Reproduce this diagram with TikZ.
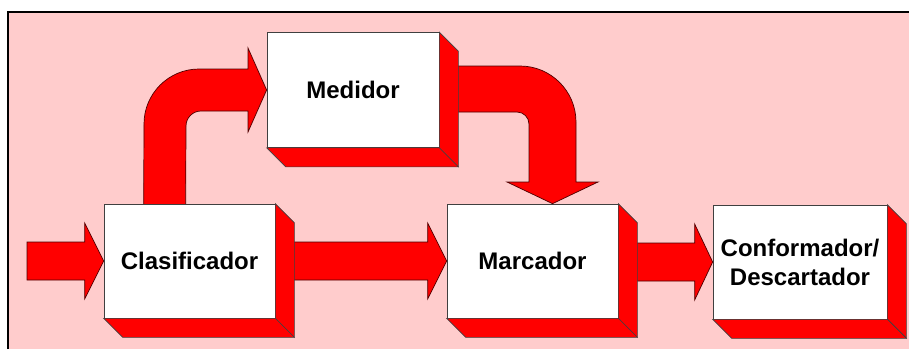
\documentclass[tikz,border=0pt]{standalone}
\usepackage{fontspec}
\setmainfont{Liberation Sans}
\usetikzlibrary{calc}
\pgfdeclarelayer{back}
\pgfdeclarelayer{mid}
\pgfsetlayers{back,mid,main}
\definecolor{panelpink}{HTML}{FFCCCC}
\definecolor{blockred}{HTML}{FF0000}
\tikzset{
  stage/.style={rectangle, draw=black!75, line width=0.7pt, fill=white,
    inner sep=0pt, minimum width=171pt, minimum height=114pt,
    font=\fontsize{24}{29}\selectfont\bfseries, align=center},
  face/.style={fill=blockred, draw=black!75, line width=0.7pt, line join=miter},
  flow/.style={fill=blockred, draw=black!70!red, line width=0.7pt, line join=miter},
}
% right and bottom faces that give a stage its depth
\newcommand\extrudestage[1]{%
  \draw[face] (#1.north east) -- ++(19,19) -- ($(#1.south east)+(19,19)$)
    -- (#1.south east) -- cycle;
  \draw[face] (#1.south west) -- (#1.south east) -- ++(19,19)
    -- ($(#1.south west)+(19,19)$) -- cycle;}
% straight block arrow: #1 start, #2 tip, #3 head length
\newcommand\straightflow[3]{%
  \draw[flow] ($(#1 |- #2)+(0,-19)$) -- ($(#2)+(-#3,-19)$) -- ($(#2)+(-#3,-38)$)
    -- (#2) -- ($(#2)+(-#3,38)$) -- ($(#2)+(-#3,19)$) -- ($(#1 |- #2)+(0,19)$) -- cycle;}
\begin{document}
\begin{tikzpicture}[x=1pt, y=-1pt]
  \useasboundingbox (0,0) rectangle (909,349);

  % stages
  \node[stage] (clas) at (189.5,261) {Clasificador};
  \node[stage, minimum width=172pt, minimum height=115pt] (med) at (353,90) {Medidor};
  \node[stage] (marc) at (532.5,261) {Marcador};
  \node[stage, minimum width=174pt] (conf) at (800,262) {Conformador/\\Descartador};
  \extrudestage{clas}
  \extrudestage{med}
  \extrudestage{marc}
  \extrudestage{conf}

  % panel
  \begin{pgfonlayer}{back}
    \fill[panelpink] (8,12) rectangle (909,349);
    \draw[black, line width=1.2pt] (8,349) -- (8,12) -- (909,12);
  \end{pgfonlayer}

  % flows
  \begin{pgfonlayer}{mid}
    \coordinate (feed) at (27,261);
    \straightflow{feed}{clas.west}{19}
    \straightflow{clas.east}{marc.west}{19}
    \straightflow{marc.east}{conf.west}{18}

    % Clasificador -> Medidor
    \draw[flow] ($(clas.north west)+(40,2)$) -- (144,124)
      .. controls (144,93.6) and (168.6,69) .. (199,69)
      -- (248,69) -- (248,48) -- (med.west) -- (248,132) -- (248,111) -- (201,111)
      .. controls (192.7,111) and (186,117.7) .. (186,126)
      -- ($(clas.north west)+(82,2)$) -- cycle;

    % Medidor -> Marcador
    \draw[flow] ($(med.east |- 0,66)+(6,0)$) -- (520,66)
      .. controls (550.9,66) and (576,91.1) .. (576,122)
      -- (576,182) -- (598,182) -- ($(marc.north)+(20,0)$) -- (507,182) -- (529,182)
      -- (529,124) .. controls (529,117.4) and (523.6,112) .. (517,112)
      -- ($(med.east |- 0,112)+(6,0)$) -- cycle;
  \end{pgfonlayer}
\end{tikzpicture}
\end{document}
